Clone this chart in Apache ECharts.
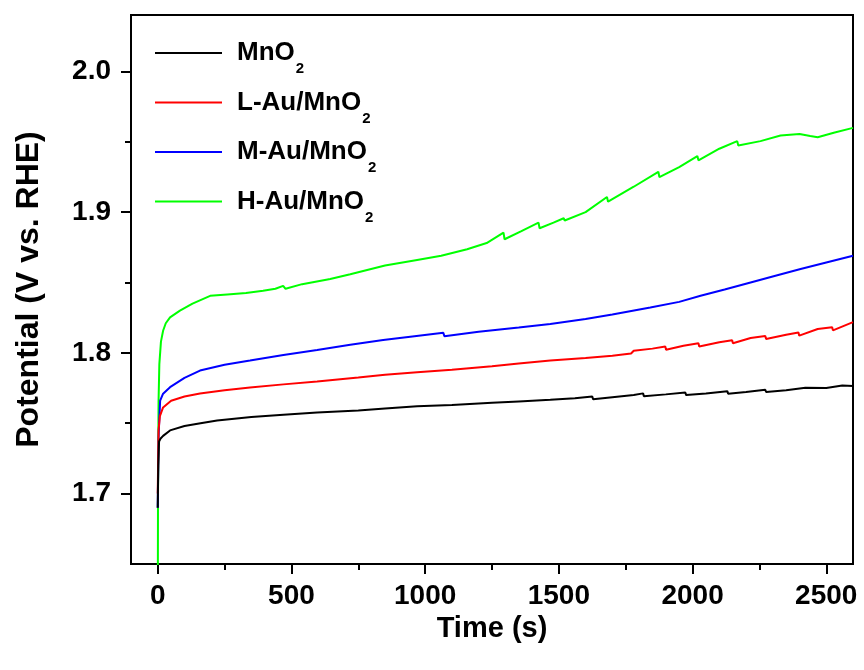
<!DOCTYPE html>
<html>
<head>
<meta charset="utf-8">
<script src="https://cdn.jsdelivr.net/npm/echarts@6/dist/echarts.min.js"></script>
<style>html,body{margin:0;padding:0;background:#fff}#c{width:864px;height:670px}</style>
</head>
<body>
<div id="c"></div>
<script>
// ---- data ----
const seriesNames = ['MnO2', 'L-Au/MnO2', 'M-Au/MnO2', 'H-Au/MnO2'];
const seriesColors = ['#000000', '#ff0000', '#0000ff', '#00ff00'];

const tMnO2 = [0, 2, 5, 10, 20, 46, 100, 160, 222, 350, 470, 596, 750, 850, 970, 1100, 1250, 1350, 1468, 1560, 1625, 1628, 1700, 1780, 1815, 1818, 1900, 1973, 1976, 2050, 2130, 2133, 2200, 2272, 2275, 2350, 2422, 2425, 2500, 2560, 2600];
const vMnO2 = [1.690, 1.720, 1.737, 1.739, 1.741, 1.7449, 1.748, 1.750, 1.752, 1.7545, 1.756, 1.7576, 1.759, 1.7605, 1.7621, 1.763, 1.7645, 1.7655, 1.7666, 1.7678, 1.769, 1.767, 1.7685, 1.770, 1.7712, 1.7692, 1.7705, 1.7718, 1.770, 1.7712, 1.7728, 1.771, 1.7722, 1.7738, 1.7722, 1.7735, 1.7752, 1.7738, 1.775, 1.7768, 1.7765];

const tL = [0, 3, 8, 20, 50, 100, 158, 250, 345, 470, 596, 750, 850, 970, 1100, 1250, 1350, 1468, 1600, 1700, 1770, 1780, 1850, 1898, 1901, 1966, 2022, 2025, 2100, 2148, 2151, 2217, 2272, 2275, 2350, 2396, 2399, 2468, 2522, 2525, 2600];
const vL = [1.700, 1.745, 1.755, 1.7612, 1.766, 1.769, 1.7711, 1.7735, 1.7754, 1.7776, 1.7796, 1.7825, 1.7845, 1.7862, 1.788, 1.7905, 1.7925, 1.7945, 1.7963, 1.798, 1.7995, 1.8015, 1.803, 1.8045, 1.8022, 1.8051, 1.8068, 1.8045, 1.8075, 1.809, 1.8068, 1.8106, 1.812, 1.8098, 1.8128, 1.8145, 1.8122, 1.8169, 1.8182, 1.816, 1.8218];

const tM = [0, 3, 9, 20, 46, 100, 158, 250, 345, 470, 596, 720, 843, 960, 1068, 1072, 1200, 1350, 1468, 1600, 1700, 1842, 1950, 2030, 2120, 2217, 2310, 2404, 2500, 2600];
const vM = [1.690, 1.740, 1.7661, 1.771, 1.7756, 1.7822, 1.7874, 1.7915, 1.7945, 1.7985, 1.8021, 1.8057, 1.8091, 1.8118, 1.8142, 1.8118, 1.815, 1.818, 1.8205, 1.824, 1.8272, 1.8322, 1.8362, 1.8405, 1.845, 1.850, 1.8548, 1.8595, 1.8642, 1.869];

const tH = [0, 1, 3, 6, 12, 20, 30, 46, 83, 130, 196, 260, 330, 394, 440, 469, 478, 540, 645, 720, 850, 970, 1060, 1157, 1230, 1293, 1297, 1360, 1424, 1428, 1480, 1518, 1522, 1600, 1680, 1684, 1780, 1872, 1876, 1950, 2018, 2022, 2100, 2167, 2171, 2254, 2329, 2400, 2440, 2468, 2528, 2600];
const vH = [1.600, 1.700, 1.765, 1.792, 1.808, 1.8157, 1.821, 1.8252, 1.830, 1.835, 1.8405, 1.8415, 1.8425, 1.8441, 1.8455, 1.8476, 1.8455, 1.8488, 1.8524, 1.8559, 1.862, 1.866, 1.869, 1.8736, 1.878, 1.8854, 1.8807, 1.8865, 1.8925, 1.8885, 1.8925, 1.8956, 1.894, 1.900, 1.9107, 1.9074, 1.918, 1.9286, 1.9249, 1.932, 1.9398, 1.9368, 1.945, 1.9504, 1.9473, 1.9504, 1.9544, 1.9555, 1.954, 1.9532, 1.9563, 1.9598];

const xMajorTicks = [0, 500, 1000, 1500, 2000, 2500];
const xMinorTicks = [250, 750, 1250, 1750, 2250];
const yMajorTicks = [1.7, 1.8, 1.9, 2.0];
const yMinorTicks = [1.75, 1.85, 1.95];
const xTitle = 'Time (s)';
const yTitle = 'Potential (V vs. RHE)';

// ---- chart ----
const FONT = '"Liberation Sans", Arial, sans-serif';
const zip = (t, v) => t.map((x, i) => [x, v[i]]);
const allT = [tMnO2, tL, tM, tH];
const allV = [vMnO2, vL, vM, vH];

const chart = echarts.init(document.getElementById('c'), null, {renderer: 'canvas'});
const axisLine = {show: true, onZero: false, lineStyle: {color: '#000', width: 2}};
const hiddenLine = {show: false, onZero: false};
const xRange = {min: -100, max: 2600};
const yRange = {min: 1.65, max: 2.04};

chart.setOption({
  backgroundColor: '#fff',
  animation: false,
  grid: {left: 131, right: 11, top: 15, bottom: 106, show: true, borderColor: '#000', borderWidth: 2, containLabel: false, outerBoundsMode: 'none'},
  legend: {
    orient: 'vertical', left: 150, top: 35, itemGap: 13,
    itemWidth: 67, itemHeight: 2, icon: 'rect',
    data: seriesNames,
    formatter: n => n.replace('O2', 'O{s|2}'),
    textStyle: {fontFamily: FONT, fontWeight: 'bold', fontSize: 26, color: '#000', padding: [0, 0, 0, 10],
      rich: {s: {fontFamily: FONT, fontWeight: 'bold', fontSize: 15, color: '#000', padding: [32, 0, 0, 1]}}}
  },
  xAxis: [
    Object.assign({type: 'value', position: 'bottom', name: xTitle, nameLocation: 'middle', nameGap: 50,
      nameTextStyle: {fontFamily: FONT, fontWeight: 'bold', fontSize: 29, color: '#000'},
      axisLine: axisLine, splitLine: {show: false},
      axisTick: {show: true, inside: false, length: 10, lineStyle: {color: '#000', width: 2}, customValues: xMajorTicks},
      axisLabel: {show: true, margin: 18, fontFamily: FONT, fontWeight: 'bold', fontSize: 28, color: '#000',
        customValues: xMajorTicks, formatter: v => String(Math.round(v))}
    }, xRange),
    Object.assign({type: 'value', position: 'bottom', gridIndex: 0,
      axisLine: hiddenLine, splitLine: {show: false},
      axisTick: {show: true, inside: false, length: 6, lineStyle: {color: '#000', width: 2}, customValues: xMinorTicks},
      axisLabel: {show: false}
    }, xRange)
  ],
  yAxis: [
    Object.assign({type: 'value', position: 'left', name: yTitle, nameLocation: 'middle', nameGap: 86,
      nameTextStyle: {fontFamily: FONT, fontWeight: 'bold', fontSize: 32, color: '#000'},
      axisLine: axisLine, splitLine: {show: false},
      axisTick: {show: true, inside: false, length: 10, lineStyle: {color: '#000', width: 2}, customValues: yMajorTicks},
      axisLabel: {show: true, margin: 20, fontFamily: FONT, fontWeight: 'bold', fontSize: 28, color: '#000',
        customValues: yMajorTicks, formatter: v => v.toFixed(1)}
    }, yRange),
    Object.assign({type: 'value', position: 'left', gridIndex: 0,
      axisLine: hiddenLine, splitLine: {show: false},
      axisTick: {show: true, inside: false, length: 6, lineStyle: {color: '#000', width: 2}, customValues: yMinorTicks},
      axisLabel: {show: false}
    }, yRange)
  ],
  series: seriesNames.map((n, i) => ({
    name: n, type: 'line', xAxisIndex: 0, yAxisIndex: 0,
    data: zip(allT[i], allV[i]),
    symbol: 'none', showSymbol: false, clip: true,
    lineStyle: {color: seriesColors[i], width: 2},
    itemStyle: {color: seriesColors[i]},
    z: 2 + (3 - i)
  }))
});
</script>
</body>
</html>
